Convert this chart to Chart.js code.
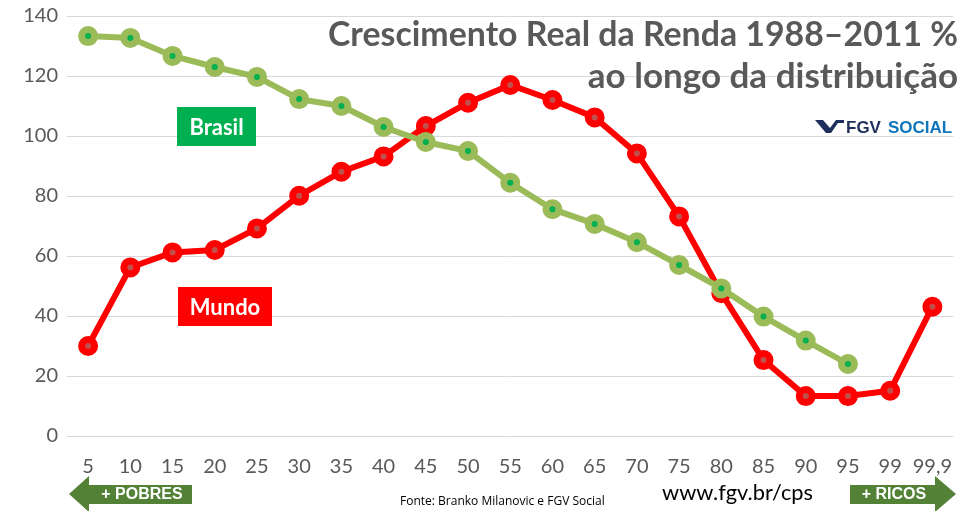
<!DOCTYPE html>
<html>
<head>
<meta charset="utf-8">
<script src="https://cdn.jsdelivr.net/npm/chart.js@4/dist/chart.umd.min.js"></script>
<style>
  html, body { margin: 0; padding: 0; background: #fff; }
  #wrap { width: 967px; height: 511px; }
</style>
</head>
<body>
<div id="wrap"><canvas id="c" width="967" height="511"></canvas></div>
<script>
// percentis da distribuição
const categories = ['5', '10', '15', '20', '25', '30', '35', '40', '45', '50', '55', '60', '65', '70', '75', '80', '85', '90', '95', '99', '99,9'];
const brasil = [133.3, 132.7, 126.7, 123, 119.7, 112.3, 110, 103, 98, 95, 84.4, 75.6, 70.7, 64.6, 57, 49.2, 39.8, 31.8, 24, null, null];
const mundo = [30, 56.2, 61.2, 62, 69.2, 80.1, 88.1, 93.2, 103.3, 111.1, 117, 112, 106.2, 94.2, 73.2, 47.6, 25.3, 13.3, 13.3, 15.1, 43.1];
const yTicks = [0, 20, 40, 60, 80, 100, 120, 140];

const titleLines = ['Crescimento Real da Renda 1988–2011 %', 'ao longo da distribuição'];
const fonte = 'Fonte: Branko Milanovic e FGV Social';
const site = 'www.fgv.br/cps';

const grey = '#595959';
const clear = 'rgba(0,0,0,0)';

function box(ctx, x, y, w, h, fill, text) {
  ctx.fillStyle = fill;
  ctx.fillRect(x, y, w, h);
  ctx.fillStyle = '#fff';
  ctx.font = 'bold 22px Lato';
  ctx.textAlign = 'center';
  ctx.textBaseline = 'middle';
  ctx.fillText(text, x + w / 2, y + h / 2 + 1);
}

function arrow(ctx, left, text) {
  ctx.fillStyle = '#538135';
  ctx.beginPath();
  if (left) {
    ctx.moveTo(69, 494);
    ctx.lineTo(89, 476);
    ctx.lineTo(89, 485);
    ctx.lineTo(192, 485);
    ctx.lineTo(192, 504);
    ctx.lineTo(89, 504);
    ctx.lineTo(89, 512);
  } else {
    ctx.moveTo(956, 494);
    ctx.lineTo(935, 476);
    ctx.lineTo(935, 485);
    ctx.lineTo(850, 485);
    ctx.lineTo(850, 504);
    ctx.lineTo(935, 504);
    ctx.lineTo(935, 512);
  }
  ctx.closePath();
  ctx.fill();
  ctx.fillStyle = '#fff';
  ctx.font = 'bold 16px "Liberation Sans"';
  ctx.textBaseline = 'middle';
  ctx.textAlign = 'center';
  ctx.fillText(text, left ? 142 : 894, 495);
}

const extras = {
  id: 'extras',
  afterDraw(chart) {
    const ctx = chart.ctx;
    ctx.save();
    // titulo
    ctx.fillStyle = grey;
    ctx.font = 'bold 35px Lato';
    ctx.textAlign = 'right';
    ctx.textBaseline = 'alphabetic';
    ctx.fillText(titleLines[0], 958, 46, 630);
    ctx.fillText(titleLines[1], 958, 88, 374);

    // logo FGV SOCIAL
    ctx.fillStyle = '#1F2F5C';
    ctx.beginPath();
    ctx.moveTo(815, 120); ctx.lineTo(823, 120); ctx.lineTo(830, 128);
    ctx.lineTo(836, 120); ctx.lineTo(840, 120); ctx.lineTo(831, 133);
    ctx.lineTo(826, 133);
    ctx.closePath();
    ctx.fill();
    ctx.fillRect(838, 120, 6, 3);
    ctx.font = 'bold 17px "Liberation Sans"';
    ctx.textAlign = 'left';
    ctx.textBaseline = 'alphabetic';
    ctx.fillText('FGV', 846, 133);
    ctx.fillStyle = '#0F75BC';
    ctx.fillText('SOCIAL', 888, 133, 70);

    // rotulos das series
    box(ctx, 177, 107, 79, 39, '#00B050', 'Brasil');
    box(ctx, 178, 287, 94, 39, '#FF0000', 'Mundo');

    // rodape
    arrow(ctx, true, '+ POBRES');
    arrow(ctx, false, '+ RICOS');
    ctx.fillStyle = '#000';
    ctx.textAlign = 'left';
    ctx.textBaseline = 'alphabetic';
    ctx.font = '12px "Open Sans"';
    ctx.fillText(fonte, 400, 505, 214);
    ctx.font = '22px Lato';
    ctx.fillText(site, 662, 500, 151);
    ctx.restore();
  }
};

new Chart(document.getElementById('c'), {
  type: 'line',
  data: {
    labels: categories,
    datasets: [
      {
        label: 'Brasil',
        data: brasil,
        order: 0,
        borderColor: '#9BBB59',
        borderWidth: 6,
        pointRadius: 6.5,
        pointBorderWidth: 7,
        pointBackgroundColor: '#00B050',
        pointBorderColor: '#9BBB59',
        tension: 0,
        spanGaps: false
      },
      {
        label: 'Mundo',
        data: mundo,
        order: 1,
        borderColor: '#FF0000',
        borderWidth: 6,
        pointRadius: 6.5,
        pointBorderWidth: 7,
        pointBackgroundColor: '#C0504D',
        pointBorderColor: '#FF0000',
        tension: 0
      }
    ]
  },
  options: {
    responsive: false,
    animation: false,
    layout: { padding: { top: 16, right: 7, left: 0, bottom: 0 } },
    plugins: {
      legend: { display: false },
      tooltip: { enabled: false }
    },
    scales: {
      x: {
        offset: true,
        grid: { display: true, color: clear, tickColor: clear, drawTicks: true, tickLength: 19, offset: true },
        border: { display: false },
        ticks: { color: grey, font: { family: 'Lato', size: 20 }, padding: 0, maxRotation: 0, autoSkip: false },
        afterFit(scale) {
          scale.height = 75;
          scale.paddingLeft = 0;
          scale.paddingRight = 0;
        }
      },
      y: {
        min: 0,
        max: 140,
        afterBuildTicks(scale) { scale.ticks = yTicks.map(v => ({ value: v })); },
        grid: { color: '#D9D9D9', lineWidth: 1, drawTicks: true, tickLength: 5, tickColor: clear },
        border: { display: false },
        ticks: { color: grey, font: { family: 'Lato', size: 20, lineHeight: 1 }, padding: 4 },
        afterFit(scale) { scale.width = 67; }
      }
    }
  },
  plugins: [extras]
});
</script>
</body>
</html>
